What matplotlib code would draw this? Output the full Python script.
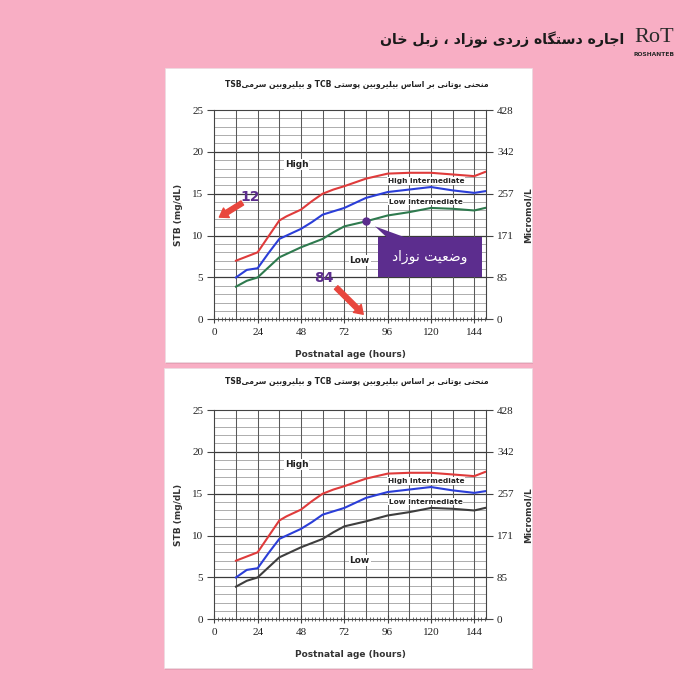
import re
import matplotlib
matplotlib.use('Agg')
import matplotlib.pyplot as plt
from matplotlib.patches import Rectangle, Polygon
import numpy as np

# ---------------- data ----------------
hours = [12, 18, 24, 30, 36, 40, 48, 54, 60, 66, 72, 84, 96, 108, 120, 132, 144, 150]
high_risk = [7.0, 7.5, 8.0, 9.9, 11.8, 12.3, 13.1, 14.1, 15.0, 15.5, 15.9, 16.8, 17.4, 17.5, 17.5, 17.3, 17.1, 17.6]
high_int = [5.0, 5.9, 6.1, 7.9, 9.6, 10.0, 10.8, 11.6, 12.5, 12.9, 13.3, 14.5, 15.2, 15.5, 15.8, 15.4, 15.1, 15.3]
low_int = [3.9, 4.6, 5.0, 6.2, 7.4, 7.8, 8.6, 9.1, 9.6, 10.4, 11.1, 11.7, 12.4, 12.8, 13.3, 13.2, 13.0, 13.3]
x_ticks = [0, 24, 48, 72, 96, 120, 144]
y_ticks = [0, 5, 10, 15, 20, 25]
micromol_labels = ['0', '85', '171', '257', '342', '428']
zone_labels = ['High', 'High intermediate', 'Low intermediate', 'Low']
baby_hour = 84
baby_value = 11.7
marked_value = 12
header_text = 'اجاره دستگاه زردی نوزاد ، زبل خان'
chart_title = 'منحنی بوتانی بر اساس بیلیروبین پوستی TCB و بیلیروبین سرمیTSB'
callout_text = 'وضعیت نوزاد'

# ---------------- simple Persian shaping ----------------
_FORMS = {
    'ا': ('\uFE8D', '\uFE8E', None, None),
    'ب': ('\uFE8F', '\uFE90', '\uFE91', '\uFE92'),
    'پ': ('\uFB56', '\uFB57', '\uFB58', '\uFB59'),
    'ت': ('\uFE95', '\uFE96', '\uFE97', '\uFE98'),
    'ج': ('\uFE9D', '\uFE9E', '\uFE9F', '\uFEA0'),
    'ح': ('\uFEA1', '\uFEA2', '\uFEA3', '\uFEA4'),
    'خ': ('\uFEA5', '\uFEA6', '\uFEA7', '\uFEA8'),
    'د': ('\uFEA9', '\uFEAA', None, None),
    'ر': ('\uFEAD', '\uFEAE', None, None),
    'ز': ('\uFEAF', '\uFEB0', None, None),
    'س': ('\uFEB1', '\uFEB2', '\uFEB3', '\uFEB4'),
    'ض': ('\uFEBD', '\uFEBE', '\uFEBF', '\uFEC0'),
    'ع': ('\uFEC9', '\uFECA', '\uFECB', '\uFECC'),
    'گ': ('\uFB92', '\uFB93', '\uFB94', '\uFB95'),
    'ل': ('\uFEDD', '\uFEDE', '\uFEDF', '\uFEE0'),
    'م': ('\uFEE1', '\uFEE2', '\uFEE3', '\uFEE4'),
    'ن': ('\uFEE5', '\uFEE6', '\uFEE7', '\uFEE8'),
    'ه': ('\uFEE9', '\uFEEA', '\uFEEB', '\uFEEC'),
    'و': ('\uFEED', '\uFEEE', None, None),
    'ی': ('\uFBFC', '\uFBFD', '\uFBFE', '\uFBFF'),
}


def shape(s):
    out = []
    for i, ch in enumerate(s):
        f = _FORMS.get(ch)
        if f is None:
            out.append(ch)
            continue
        prev = s[i - 1] if i > 0 else ''
        nxt = s[i + 1] if i + 1 < len(s) else ''
        jp = prev in _FORMS and _FORMS[prev][2] is not None
        jn = f[2] is not None and nxt in _FORMS
        if jp and jn:
            out.append(f[3])
        elif jp:
            out.append(f[1])
        elif jn:
            out.append(f[2])
        else:
            out.append(f[0])
    shaped = ''.join(out)
    tokens = re.findall(r'[A-Za-z0-9]+|[^A-Za-z0-9]+', shaped)
    vis = [t if re.match(r'[A-Za-z0-9]', t) else t[::-1] for t in reversed(tokens)]
    return ''.join(vis)


W = H = 700.0


def fx(x):
    return x / W


def fy(y):
    return 1 - y / H


PINK = '#F8AEC4'
PURPLE = '#5C2D8E'
ARROW_RED = '#E8463D'

fig = plt.figure(figsize=(7, 7), dpi=100, facecolor=PINK)

# panels
for (x0, y0, x1, y1) in [(165, 68, 532, 362), (164, 368, 532, 668)]:
    fig.patches.append(Rectangle((fx(x0) + 0.002, fy(y1) - 0.003), fx(x1 - x0), fy(y0) - fy(y1),
                                 transform=fig.transFigure, facecolor='#e79fb4', edgecolor='none', zorder=-2))
    fig.patches.append(Rectangle((fx(x0), fy(y1)), fx(x1 - x0), fy(y0) - fy(y1),
                                 transform=fig.transFigure, facecolor='white', edgecolor='#eadde2',
                                 lw=0.5, zorder=-1))

# header
fig.text(fx(624), fy(40), shape(header_text), ha='right', va='center', fontsize=10.2,
         color='#1a1a1a', family='DejaVu Sans', fontweight='bold')
fig.text(fx(654), fy(37), 'RoT', ha='center', va='center', fontsize=16, color='#2a2a2a',
         family='Liberation Serif')
fig.text(fx(654), fy(54), 'ROSHANTEB', ha='center', va='center', fontsize=4.3, color='#2a2a2a',
         family='DejaVu Sans', fontweight='bold')

serif = 'Liberation Serif'


def draw_chart(top_px, bottom_px, title_y, third_color, annotate):
    left_px, right_px = 214.3, 486.0
    ax = fig.add_axes([fx(left_px), fy(bottom_px), fx(right_px - left_px), fy(top_px) - fy(bottom_px)])
    ax.set_facecolor('white')
    ax.set_xlim(0, 150.5)
    ax.set_ylim(0, 25)
    for yv in range(1, 25):
        major = yv % 5 == 0
        ax.axhline(yv, color='#3a3a3a' if major else '#a0a0a0', lw=0.9 if major else 0.6, zorder=1)
    for xv in range(12, 150, 12):
        ax.axvline(xv, color='#5a5a5a', lw=0.75, zorder=1)
    for sp in ax.spines.values():
        sp.set_color('#444444')
        sp.set_linewidth(0.8)
    ax.set_xticks(x_ticks)
    ax.set_xticklabels([str(v) for v in x_ticks], family=serif, fontsize=8, color='#222222')
    ax.set_xticks(np.arange(0, 151, 2), minor=True)
    ax.tick_params(axis='x', which='major', direction='inout', length=6, width=0.8, color='#444444', pad=3)
    ax.tick_params(axis='x', which='minor', direction='inout', length=3.5, width=0.6, color='#555555')
    ax.set_yticks(y_ticks)
    ax.set_yticklabels([str(v) for v in y_ticks], family=serif, fontsize=8, color='#222222')
    ax.tick_params(axis='y', which='major', direction='out', length=5, width=0.8, color='#444444', pad=3)

    ax2 = ax.twinx()
    ax2.set_ylim(0, 25)
    ax2.set_yticks(y_ticks)
    ax2.set_yticklabels(micromol_labels, family=serif, fontsize=8, color='#222222')
    ax2.tick_params(axis='y', direction='out', length=5, width=0.8, color='#444444', pad=3)
    for sp in ax2.spines.values():
        sp.set_visible(False)

    ax.set_ylabel('STB (mg/dL)', fontsize=6.5, fontweight='bold', color='#333333')
    ax.yaxis.set_label_coords(-0.115, 0.5)
    ax2.set_ylabel('Micromol/L', fontsize=6.5, fontweight='bold', color='#333333', rotation=90)
    ax2.yaxis.set_label_coords(1.14, 0.5)
    ax.set_xlabel('Postnatal age (hours)', fontsize=6.5, fontweight='bold', color='#333333')
    ax.xaxis.set_label_coords(0.5, -0.145)

    ax.plot(hours, high_risk, color='#DF3B3B', lw=1.5, zorder=3)
    ax.plot(hours, high_int, color='#2B3ED8', lw=1.5, zorder=3)
    ax.plot(hours, low_int, color=third_color, lw=1.5, zorder=3)

    bb = dict(facecolor='white', edgecolor='none', pad=0.6)
    ax.text(45.5, 18.5, zone_labels[0], ha='center', va='center', fontsize=6.5, fontweight='bold',
            color='#222222', bbox=bb, zorder=4)
    ax.text(117.5, 16.5, zone_labels[1], ha='center', va='center', fontsize=5.3, fontweight='bold',
            color='#222222', bbox=bb, zorder=4)
    ax.text(117.0, 14.05, zone_labels[2], ha='center', va='center', fontsize=5.3, fontweight='bold',
            color='#222222', bbox=bb, zorder=4)
    ax.text(80.5, 7.05, zone_labels[3], ha='center', va='center', fontsize=6.5, fontweight='bold',
            color='#222222', bbox=bb, zorder=4)

    fig.text(fx(357), fy(title_y), shape(chart_title), ha='center', va='center', fontsize=5.5,
             fontweight='bold', color='#222222', family='DejaVu Sans')

    if annotate:
        ax.plot([baby_hour], [baby_value], 'o', color=PURPLE, ms=5, zorder=6)
        box = Rectangle((90.6, 5.0), 57.6, 4.8, facecolor=PURPLE, edgecolor='none', zorder=6, clip_on=False)
        ax.add_patch(box)
        tail = Polygon([(95.5, 9.8), (105.5, 9.8), (89.0, 11.1)], closed=True, facecolor=PURPLE,
                       edgecolor='none', zorder=6, clip_on=False)
        ax.add_patch(tail)
        ax.text(119.4, 7.4, shape(callout_text), ha='center', va='center', fontsize=10, color='white',
                zorder=7, family='DejaVu Sans')
        ax.text(19.8, 14.6, str(marked_value), ha='center', va='center', fontsize=10, fontweight='bold',
                color=PURPLE, zorder=7)
        ax.annotate('', xy=(2.8, 12.2), xytext=(15.5, 13.9), annotation_clip=False, zorder=7,
                    arrowprops=dict(arrowstyle='simple,head_width=0.8,head_length=0.6,tail_width=0.35',
                                    color=ARROW_RED, shrinkA=0, shrinkB=0))
        ax.text(60.7, 4.9, str(baby_hour), ha='center', va='center', fontsize=10, fontweight='bold',
                color=PURPLE, zorder=7)
        ax.annotate('', xy=(82.5, 0.6), xytext=(67.5, 3.8), annotation_clip=False, zorder=7,
                    arrowprops=dict(arrowstyle='simple,head_width=0.8,head_length=0.6,tail_width=0.35',
                                    color=ARROW_RED, shrinkA=0, shrinkB=0))
    return ax


draw_chart(110.0, 319.3, 84, '#2E7A4E', True)
draw_chart(410.0, 619.3, 381, '#3E3E3E', False)

fig.savefig('out.png', dpi=100, facecolor=PINK)
